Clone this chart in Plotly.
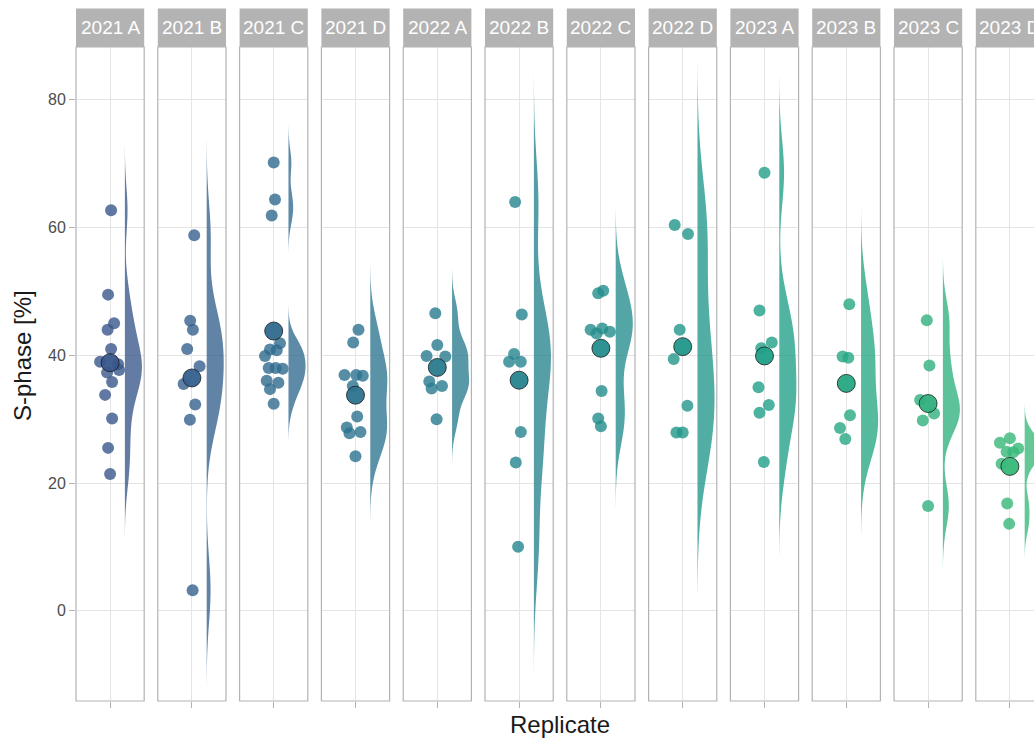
import numpy as np
import plotly.graph_objects as go
from plotly.colors import sample_colorscale

# ---------------- data ----------------
replicates = ["2021 A", "2021 B", "2021 C", "2021 D",
              "2022 A", "2022 B", "2022 C", "2022 D",
              "2023 A", "2023 B", "2023 C", "2023 D"]

s_2021_A = [62.7, 49.5, 45.0, 44.0, 41.0, 39.0, 38.6, 37.3, 37.7, 35.8, 33.8, 30.1, 25.5, 21.4]
s_2021_B = [58.8, 45.4, 44.0, 41.0, 38.3, 35.5, 32.3, 29.9, 3.2]
s_2021_C = [70.2, 64.4, 61.9, 41.9, 40.9, 40.8, 39.9, 38.0, 38.0, 37.9, 36.0, 35.7, 34.7, 32.4]
s_2021_D = [44.0, 42.0, 36.9, 36.9, 36.8, 35.2, 30.4, 28.7, 28.0, 27.8, 24.2]
s_2022_A = [46.6, 41.6, 39.9, 39.8, 35.9, 35.2, 34.8, 30.0]
s_2022_B = [64.0, 46.4, 40.2, 39.0, 39.0, 28.0, 23.2, 10.0]
s_2022_C = [50.1, 49.7, 44.0, 44.2, 43.7, 43.4, 34.4, 30.1, 28.9]
s_2022_D = [60.4, 59.0, 44.0, 39.4, 32.1, 27.9, 27.9]
s_2023_A = [68.6, 47.0, 42.0, 41.1, 35.0, 32.2, 31.0, 23.3]
s_2023_B = [48.0, 39.8, 39.6, 30.6, 28.6, 26.9]
s_2023_C = [45.5, 38.4, 33.0, 30.9, 29.8, 16.4]
s_2023_D = [27.0, 26.3, 25.4, 24.9, 24.8, 23.0, 16.8, 13.6]

# horizontal jitter of each point (pixels)
j_2021_A = [1, -2, 4, -2.5, 1, -10, 8, -3, 9, 2, -5, 2, -2, 0]
j_2021_B = [2.3, -1.7, 1, -4.7, 7.7, -8.3, 3.3, -2, 0.7]
j_2021_C = [0, 1.3, -2, 6.3, -3.7, 3, -8.7, -5, 2, 9, -7, 4.7, -3.7, 0]
j_2021_D = [3, -2.3, -11, 0.7, 7.3, -2.7, 1.7, -8.7, 5, -6, 0]
j_2022_A = [-2, 0, -10.7, 8, -8, 4.7, -5.7, -0.7]
j_2022_B = [-4, 2.7, -5, -10, 1.7, 1.7, -3.3, -1]
j_2022_C = [2.3, -2.7, -10.3, 1.3, 9, -4.3, 0.7, -2.7, 0]
j_2022_D = [-8, 5.3, -3, -9, 4.7, -6.3, 0]
j_2023_A = [0, -5, 7.3, -3.3, -6, 4.3, -5, -0.7]
j_2023_B = [3, -3.7, 2, 3.7, -6.3, -1]
j_2023_C = [-1.3, 1.3, -8, 6, -5.3, 0]
j_2023_D = [0, -10, 8.3, -3.3, 3.3, -8.3, -2.7, -0.7]

means = [38.84, 36.45, 43.8, 33.75, 38.1, 36.1, 41.1, 41.35, 39.9, 35.6, 32.45, 22.6]

series = [s_2021_A, s_2021_B, s_2021_C, s_2021_D, s_2022_A, s_2022_B,
          s_2022_C, s_2022_D, s_2023_A, s_2023_B, s_2023_C, s_2023_D]
jitters = [j_2021_A, j_2021_B, j_2021_C, j_2021_D, j_2022_A, j_2022_B,
           j_2022_C, j_2022_D, j_2023_A, j_2023_B, j_2023_C, j_2023_D]

y_ticks = [0, 20, 40, 60, 80]

# ---------------- geometry / style ----------------
W, H = 1034, 738
ML, MR, MT, MB = 76, 0, 47, 37
plot_w = W - ML - MR
plot_h = H - MT - MB
panel_px = 68.2
step_px = 81.8
x_rng = (0.4, 1.6)
px_per_unit = panel_px / (x_rng[1] - x_rng[0])
y_rng = [-14.14, 88.28]

grey70 = "#B3B3B3"
grid_c = "#E4E4E4"
positions = [0.27 + i * 0.0364 for i in range(len(replicates))]
colors = sample_colorscale("Viridis", positions, colortype="tuple")


def rgba(c, a):
    r, g, b = [int(round(v * 255)) if v <= 1 else int(round(v)) for v in c]
    return f"rgba({r},{g},{b},{a})"


def nrd0(v):
    v = np.asarray(v, float)
    sd = np.std(v, ddof=1)
    q75, q25 = np.percentile(v, [75, 25])
    lo = min(sd, (q75 - q25) / 1.34)
    if lo <= 0:
        lo = sd
    return 0.9 * lo * len(v) ** (-0.2)


fig = go.Figure()
shapes = []
annotations = []
layout = {}

for i, (name, vals, jit) in enumerate(zip(replicates, series, jitters)):
    k = "" if i == 0 else str(i + 1)
    xa, ya = "x" + k, "y" + k
    left_px = i * step_px
    right_px = left_px + panel_px
    d0 = left_px / plot_w
    d1 = right_px / plot_w
    rng = list(x_rng)
    if d1 > 1:
        rng[1] = x_rng[0] + (plot_w - left_px) / px_per_unit
        d1 = 1.0
    col = colors[i]

    # half violin
    bw = nrd0(vals)
    fig.add_trace(go.Violin(
        y=vals, x0=1.26, side="positive", width=0.60, points=False,
        spanmode="manual", span=[min(vals) - 3 * bw, max(vals) + 3 * bw],
        bandwidth=bw, scalemode="width",
        fillcolor=rgba(col, 0.78), line=dict(width=0, color=rgba(col, 0.78)),
        hoverinfo="skip", showlegend=False, xaxis=xa, yaxis=ya))

    # jittered raw points
    fig.add_trace(go.Scatter(
        x=[1 + j / px_per_unit for j in jit], y=vals, mode="markers",
        marker=dict(size=12, color=rgba(col, 0.8), line=dict(width=0)),
        hoverinfo="skip", showlegend=False, xaxis=xa, yaxis=ya))

    # mean
    fig.add_trace(go.Scatter(
        x=[1], y=[means[i]], mode="markers",
        marker=dict(size=18, color=rgba(col, 0.95),
                    line=dict(width=1, color="rgba(20,20,20,0.75)")),
        hoverinfo="skip", showlegend=False, xaxis=xa, yaxis=ya))

    layout["xaxis" + k] = dict(
        domain=[d0, d1], range=rng, type="linear", anchor=ya,
        tickvals=[1], ticktext=[""], showticklabels=False,
        ticks="outside", ticklen=6, tickcolor=grey70, tickwidth=1,
        showgrid=True, gridcolor=grid_c, gridwidth=1,
        zeroline=False, showline=False, fixedrange=True)
    ydict = dict(
        domain=[0, 1], range=y_rng, anchor=xa, type="linear",
        tickvals=y_ticks, showgrid=True, gridcolor=grid_c, gridwidth=1,
        zeroline=False, showline=False, fixedrange=True)
    if i == 0:
        ydict.update(ticks="outside", ticklen=6, tickcolor=grey70, tickwidth=1,
                     showticklabels=True,
                     tickfont=dict(family="Liberation Sans, Arial", size=16, color="#4D4D4D"))
    else:
        ydict.update(matches="y", showticklabels=False, ticks="")
    layout["yaxis" + k] = ydict

    # panel border
    p0 = left_px / plot_w
    p1 = right_px / plot_w
    shapes.append(dict(type="rect", xref="paper", yref="paper",
                       x0=p0, x1=p1, y0=0, y1=1,
                       line=dict(color=grey70, width=1.2), fillcolor="rgba(0,0,0,0)",
                       layer="above"))
    # strip
    strip_top = (H - 8.5 - MB) / plot_h
    shapes.append(dict(type="rect", xref="paper", yref="paper",
                       x0=p0, x1=p1, y0=1.0, y1=strip_top,
                       line=dict(width=0), fillcolor=grey70, layer="below"))
    annotations.append(dict(text=name, xref="paper", yref="paper",
                            x=(p0 + p1) / 2, y=(1.0 + strip_top) / 2,
                            xanchor="center", yanchor="middle", showarrow=False,
                            font=dict(family="Liberation Sans, Arial", size=19, color="white")))

annotations.append(dict(text="Replicate", xref="paper", yref="paper",
                        x=(560 - ML) / plot_w, y=((H - 724) - MB) / plot_h,
                        xanchor="center", yanchor="middle", showarrow=False,
                        font=dict(family="Liberation Sans, Arial", size=24, color="#1A1A1A")))
annotations.append(dict(text="S-phase [%]", xref="paper", yref="paper",
                        x=(22 - ML) / plot_w, y=((H - 356) - MB) / plot_h,
                        xanchor="center", yanchor="middle", showarrow=False, textangle=-90,
                        font=dict(family="Liberation Sans, Arial", size=24, color="#1A1A1A")))

fig.update_layout(
    width=W, height=H,
    margin=dict(l=ML, r=MR, t=MT, b=MB, pad=0),
    plot_bgcolor="white", paper_bgcolor="white",
    shapes=shapes, annotations=annotations,
    showlegend=False, violingap=0, violingroupgap=0,
    **layout)

fig.write_html("out.html",
               config={"displayModeBar": False, "staticPlot": True},
               post_script="document.body.style.margin='0px';"
                           "document.body.style.overflow='hidden';")
